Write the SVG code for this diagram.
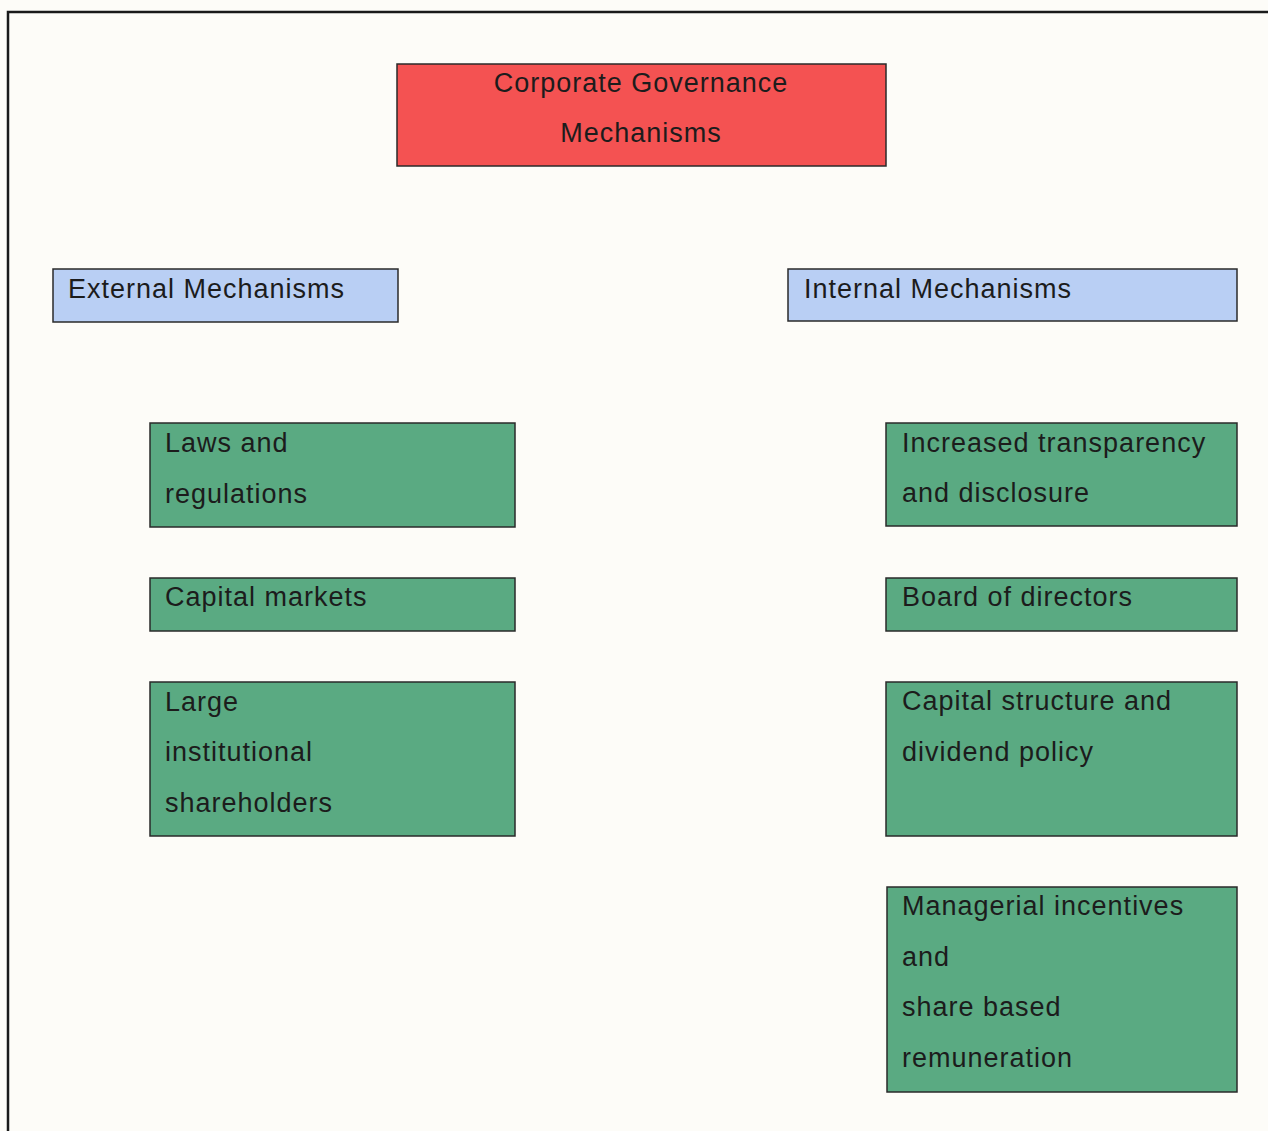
<svg xmlns="http://www.w3.org/2000/svg" width="1268" height="1131" viewBox="0 0 1268 1131">
<style>
.box{stroke:#2a2a2a;stroke-width:1.5}
.red{fill:#f45252}
.blue{fill:#b9cff4}
.green{fill:#5aaa82}
text{font-family:"Liberation Sans",Arial,sans-serif;font-size:27px;fill:#1c1c1c;letter-spacing:1px}
</style>
<rect x="0" y="0" width="1268" height="1131" fill="#fdfcf8"/>
<g id="frame" fill="none" stroke="#1a1a1a" stroke-width="2.5">
<path d="M8 1131 V12 H1268"/>
</g>
<g id="connectors"></g>
<g id="root">
<rect class="box red" x="397" y="64" width="489" height="102"/>
<text x="641" y="92" text-anchor="middle">Corporate Governance</text>
<text x="641" y="142" text-anchor="middle">Mechanisms</text>
</g>
<g id="external">
<rect class="box blue" x="53" y="269" width="345" height="53"/>
<text x="68" y="298">External Mechanisms</text>
</g>
<g id="internal">
<rect class="box blue" x="788" y="269" width="449" height="52"/>
<text x="804" y="298">Internal Mechanisms</text>
</g>
<g id="laws">
<rect class="box green" x="150" y="423" width="365" height="104"/>
<text x="165" y="452">Laws and</text>
<text x="165" y="503">regulations</text>
</g>
<g id="capital-markets">
<rect class="box green" x="150" y="578" width="365" height="53"/>
<text x="165" y="606">Capital markets</text>
</g>
<g id="institutional">
<rect class="box green" x="150" y="682" width="365" height="154"/>
<text x="165" y="711">Large</text>
<text x="165" y="761">institutional</text>
<text x="165" y="812">shareholders</text>
</g>
<g id="transparency">
<rect class="box green" x="886" y="423" width="351" height="103"/>
<text x="902" y="452">Increased transparency</text>
<text x="902" y="502">and disclosure</text>
</g>
<g id="board">
<rect class="box green" x="886" y="578" width="351" height="53"/>
<text x="902" y="606">Board of directors</text>
</g>
<g id="capital-structure">
<rect class="box green" x="886" y="682" width="351" height="154"/>
<text x="902" y="710">Capital structure and</text>
<text x="902" y="761">dividend policy</text>
</g>
<g id="incentives">
<rect class="box green" x="887" y="887" width="350" height="205"/>
<text x="902" y="915">Managerial incentives</text>
<text x="902" y="966">and</text>
<text x="902" y="1016">share based</text>
<text x="902" y="1067">remuneration</text>
</g>
</svg>
